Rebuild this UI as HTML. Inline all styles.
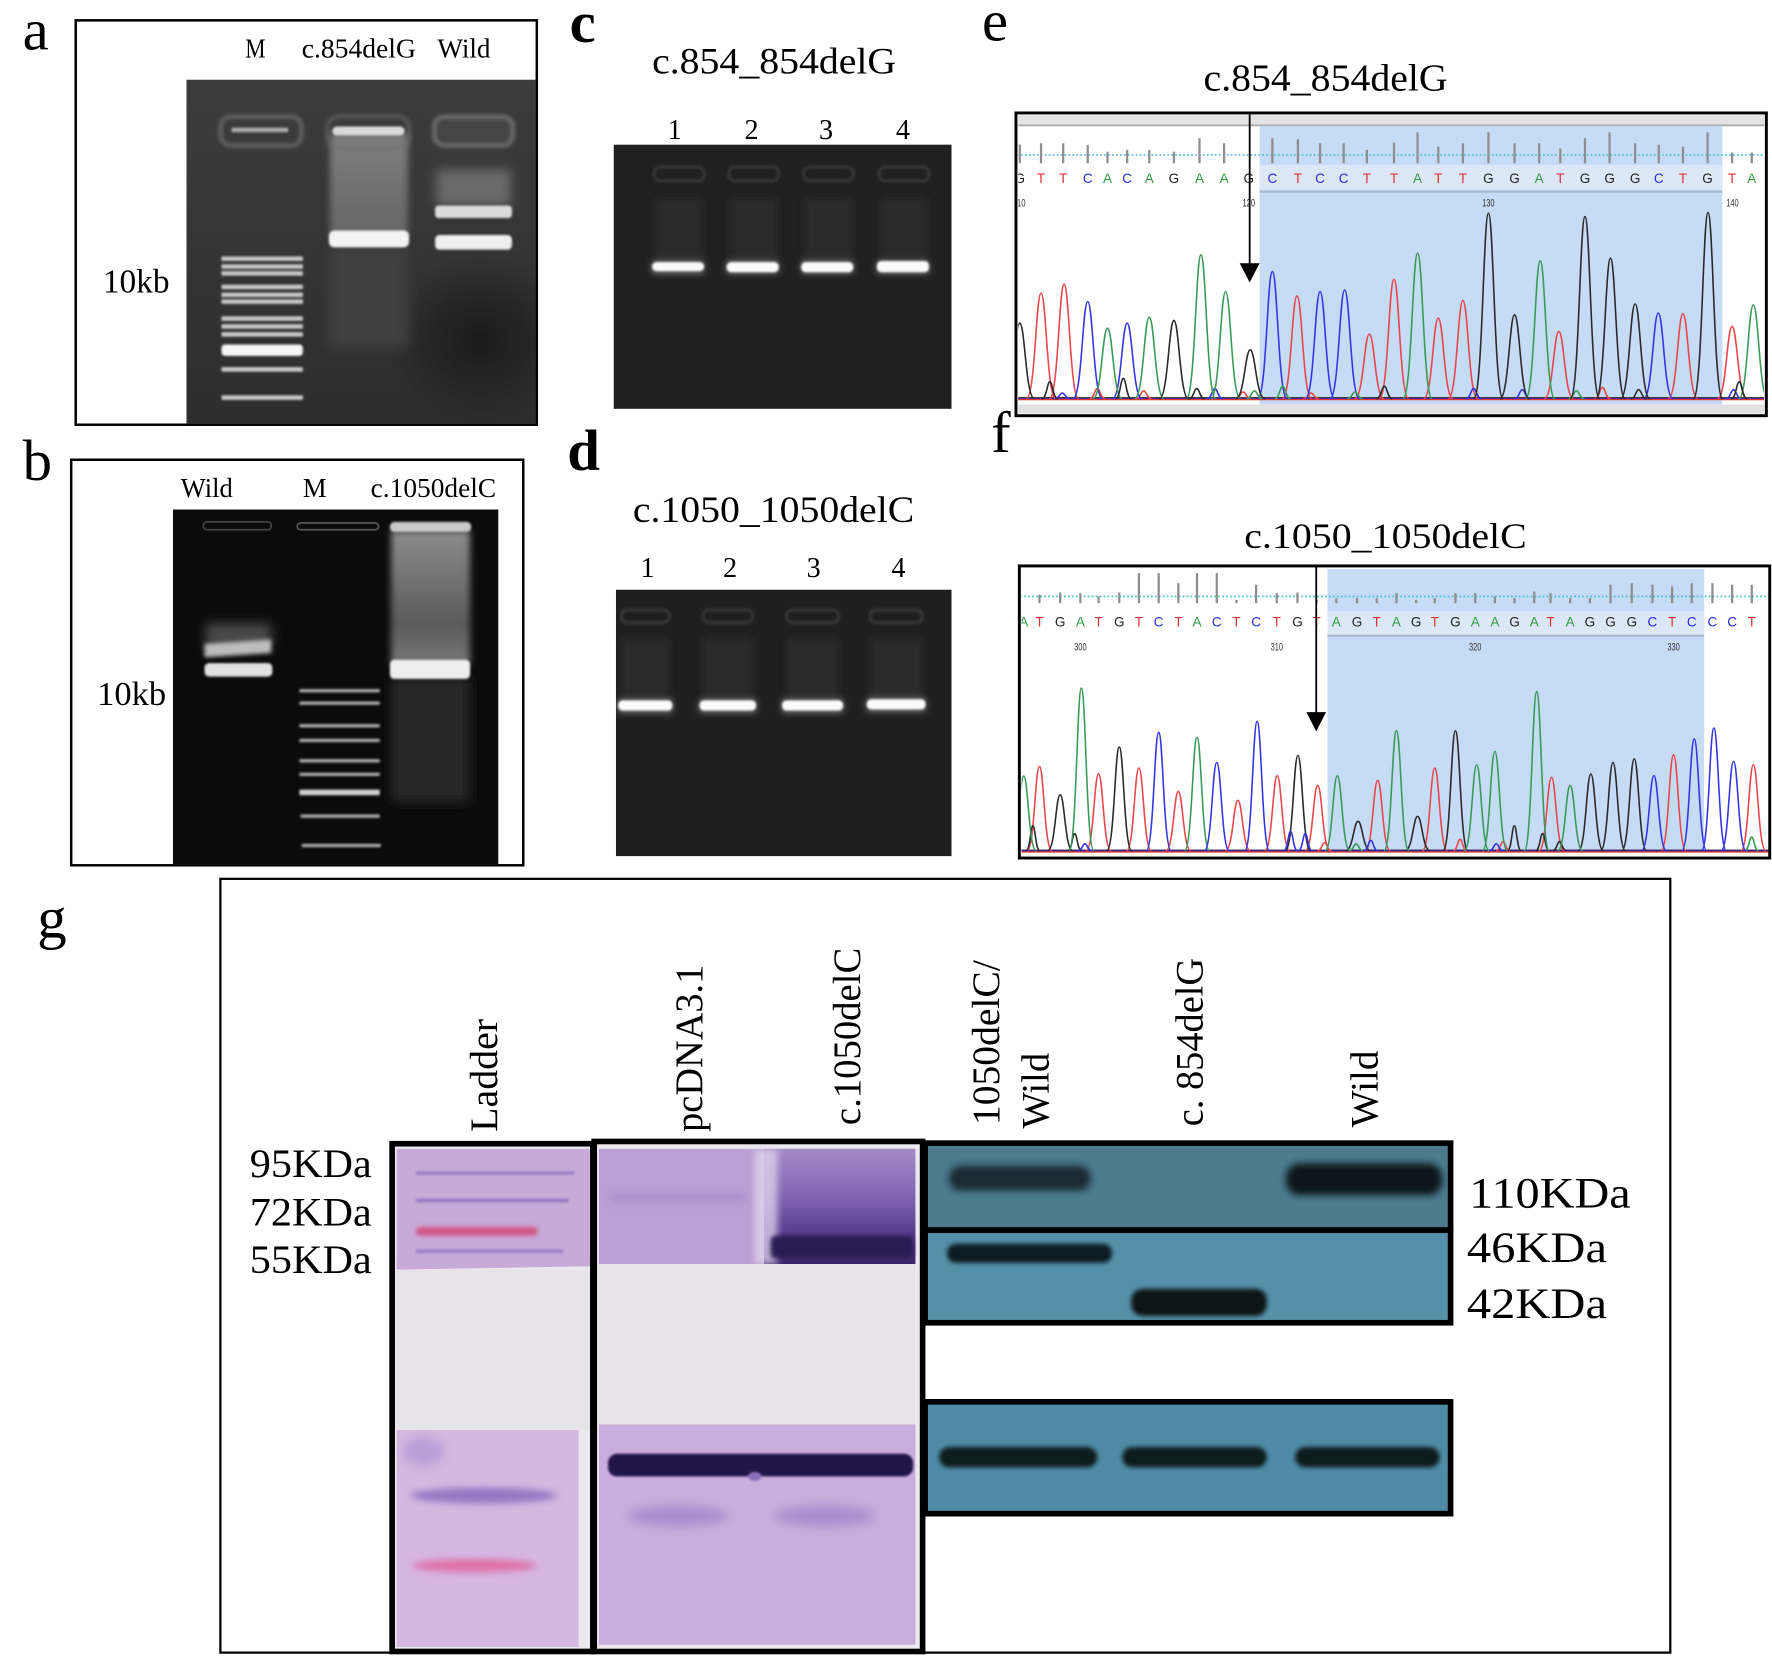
<!DOCTYPE html>
<html>
<head>
<meta charset="utf-8">
<style>
html,body{margin:0;padding:0;background:#fff;}
svg{display:block;}
.serif{font-family:"Liberation Serif","Times New Roman",serif;}
.sans{font-family:"Liberation Sans",Arial,sans-serif;}
</style>
</head>
<body>
<svg width="1772" height="1656" viewBox="0 0 1568 1466" preserveAspectRatio="none" xmlns="http://www.w3.org/2000/svg">
<defs>
  <filter id="b1" filterUnits="userSpaceOnUse" x="0" y="0" width="1568" height="1466"><feGaussianBlur stdDeviation="1"/></filter>
  <filter id="b2" filterUnits="userSpaceOnUse" x="0" y="0" width="1568" height="1466"><feGaussianBlur stdDeviation="2"/></filter>
  <filter id="b3" filterUnits="userSpaceOnUse" x="0" y="0" width="1568" height="1466"><feGaussianBlur stdDeviation="3"/></filter>
  <filter id="b5" filterUnits="userSpaceOnUse" x="0" y="0" width="1568" height="1466"><feGaussianBlur stdDeviation="5"/></filter>
  <radialGradient id="darkSpot" cx="0.5" cy="0.5" r="0.5">
    <stop offset="0" stop-color="#141414" stop-opacity="0.75"/>
    <stop offset="0.5" stop-color="#161616" stop-opacity="0.45"/>
    <stop offset="1" stop-color="#1a1a1a" stop-opacity="0"/>
  </radialGradient>
  <linearGradient id="gA" x1="0" y1="0" x2="0" y2="1"><stop offset="0" stop-color="#3c3c3c"/><stop offset="1" stop-color="#2d2d2d"/></linearGradient>
  <linearGradient id="smA" x1="0" y1="0" x2="0" y2="1"><stop offset="0" stop-color="#8a8a8a"/><stop offset="1" stop-color="#6e6e6e"/></linearGradient>
  <linearGradient id="smB" x1="0" y1="0" x2="0" y2="1"><stop offset="0" stop-color="#8c8c8c"/><stop offset="0.7" stop-color="#5a5a5a"/><stop offset="1" stop-color="#777"/></linearGradient>
  <linearGradient id="lane1050" x1="0" y1="0" x2="0" y2="1"><stop offset="0" stop-color="#a58ac9"/><stop offset="0.45" stop-color="#7d61b0"/><stop offset="0.7" stop-color="#5b3f90"/><stop offset="1" stop-color="#3a2468"/></linearGradient>
  <clipPath id="clipE"><rect x="901" y="102" width="660" height="264"/></clipPath>
  <clipPath id="clipF"><rect x="904" y="502.5" width="661" height="255.5"/></clipPath>
  <clipPath id="clipGA"><rect x="165" y="70.5" width="309" height="305"/></clipPath>
  <clipPath id="clipGB"><rect x="153" y="451" width="288" height="315"/></clipPath>
  <clipPath id="clipGC"><rect x="543" y="128" width="299" height="234"/></clipPath>
  <clipPath id="clipGD"><rect x="545" y="522" width="297" height="236"/></clipPath>
</defs>

<rect x="0" y="0" width="1568" height="1466" fill="#fff"/>

<!-- ================= Panel a ================= -->
<text class="serif" x="20" y="44" font-size="52">a</text>
<rect x="67" y="18" width="408" height="358" fill="#fff" stroke="#000" stroke-width="2.2"/>
<text class="serif" x="217" y="51" font-size="24" textLength="18" lengthAdjust="spacingAndGlyphs">M</text>
<text class="serif" x="267" y="51" font-size="24" textLength="101" lengthAdjust="spacingAndGlyphs">c.854delG</text>
<text class="serif" x="387" y="51" font-size="24" textLength="47" lengthAdjust="spacingAndGlyphs">Wild</text>
<text class="serif" x="91" y="259" font-size="30" textLength="59" lengthAdjust="spacingAndGlyphs">10kb</text>
<g clip-path="url(#clipGA)">
  <rect x="165" y="70.5" width="309" height="305" fill="url(#gA)"/>
  <ellipse cx="425" cy="300" rx="85" ry="75" fill="url(#darkSpot)"/>
  <!-- M lane -->
  <rect x="195" y="103" width="72" height="26" rx="9" fill="#3a3a3a" stroke="#7a7a7a" stroke-width="2" filter="url(#b2)"/>
  <rect x="205" y="113" width="50" height="4" fill="#aaa" filter="url(#b1)"/>
  <g fill="#c8c8c8" filter="url(#b1)">
    <rect x="196" y="227" width="72" height="4"/>
    <rect x="196" y="234" width="72" height="4"/>
    <rect x="196" y="240" width="72" height="4"/>
    <rect x="196" y="252" width="72" height="4"/>
    <rect x="196" y="259" width="72" height="4"/>
    <rect x="196" y="265" width="72" height="4"/>
    <rect x="196" y="280" width="72" height="4"/>
    <rect x="196" y="287" width="72" height="4"/>
    <rect x="196" y="294" width="72" height="4"/>
    <rect x="196" y="325" width="72" height="4"/>
    <rect x="196" y="350" width="72" height="4"/>
  </g>
  <rect x="196" y="305" width="72" height="10" rx="3" fill="#f6f6f6" filter="url(#b1)"/>
  <!-- c.854delG lane -->
  <rect x="292" y="118" width="69" height="92" fill="url(#smA)" opacity="0.85" filter="url(#b3)"/>
  <rect x="292" y="218" width="69" height="90" fill="#414141" filter="url(#b5)"/>
  <rect x="290" y="103" width="72" height="28" rx="10" fill="none" stroke="#6f6f6f" stroke-width="2" filter="url(#b2)"/>
  <rect x="294" y="112" width="64" height="8" rx="4" fill="#d8d8d8" filter="url(#b1)"/>
  <rect x="291" y="204" width="71" height="15" rx="5" fill="#f3f3f3" filter="url(#b1)"/>
  <!-- Wild lane -->
  <rect x="384" y="103" width="70" height="26" rx="9" fill="#454545" stroke="#8a8a8a" stroke-width="2" filter="url(#b2)"/>
  <rect x="386" y="150" width="66" height="32" fill="#6a6a6a" filter="url(#b5)"/>
  <rect x="385" y="182" width="68" height="11" rx="3" fill="#dcdcdc" filter="url(#b1)"/>
  <rect x="385" y="208" width="68" height="13" rx="4" fill="#efefef" filter="url(#b1)"/>
</g>

<!-- ================= Panel b ================= -->
<text class="serif" x="20" y="425" font-size="52">b</text>
<rect x="63" y="407" width="400" height="359" fill="#fff" stroke="#000" stroke-width="2.2"/>
<text class="serif" x="160" y="440" font-size="24" textLength="46" lengthAdjust="spacingAndGlyphs">Wild</text>
<text class="serif" x="268" y="440" font-size="24" textLength="21" lengthAdjust="spacingAndGlyphs">M</text>
<text class="serif" x="328" y="440" font-size="24" textLength="111" lengthAdjust="spacingAndGlyphs">c.1050delC</text>
<text class="serif" x="86" y="624" font-size="30" textLength="61" lengthAdjust="spacingAndGlyphs">10kb</text>
<g clip-path="url(#clipGB)">
  <rect x="153" y="451" width="288" height="315" fill="#0b0b0b"/>
  <!-- Wild -->
  <rect x="180" y="462" width="60" height="7" rx="3" fill="none" stroke="#444" stroke-width="1.5"/>
  <rect x="182" y="552" width="58" height="22" fill="#4a4a4a" filter="url(#b5)"/>
  <path d="M181 570 L240 566 L240 578 L181 582 Z" fill="#bdbdbd" filter="url(#b2)"/>
  <rect x="181" y="587" width="60" height="12" rx="4" fill="#e0e0e0" filter="url(#b1)"/>
  <!-- M ladder -->
  <rect x="263" y="463" width="72" height="6" rx="3" fill="none" stroke="#555" stroke-width="1.5"/>
  <g fill="#a8a8a8" filter="url(#b1)">
    <rect x="265" y="610" width="71" height="3"/>
    <rect x="265" y="621" width="71" height="3"/>
    <rect x="265" y="641" width="71" height="3"/>
    <rect x="265" y="654" width="71" height="3"/>
    <rect x="265" y="672" width="71" height="3"/>
    <rect x="265" y="684" width="71" height="3"/>
    <rect x="266" y="721" width="70" height="3"/>
    <rect x="267" y="747" width="70" height="3"/>
  </g>
  <rect x="265" y="699" width="71" height="5" fill="#d0d0d0" filter="url(#b1)"/>
  <!-- c.1050delC -->
  <rect x="346" y="470" width="70" height="118" fill="url(#smB)" filter="url(#b3)"/>
  <rect x="346" y="600" width="70" height="110" fill="#262626" filter="url(#b5)"/>
  <rect x="345" y="462" width="72" height="9" rx="4" fill="#c8c8c8" filter="url(#b1)"/>
  <rect x="345" y="584" width="71" height="17" rx="4" fill="#eeeeee" filter="url(#b1)"/>
</g>

<!-- ================= Panel c ================= -->
<text class="serif" x="504" y="37" font-size="52" font-weight="bold">c</text>
<text class="serif" x="577" y="65" font-size="33" textLength="216" lengthAdjust="spacingAndGlyphs">c.854_854delG</text>
<g class="serif" font-size="25" text-anchor="middle">
  <text x="597" y="123">1</text><text x="665" y="123">2</text><text x="731" y="123">3</text><text x="799" y="123">4</text>
</g>
<g clip-path="url(#clipGC)">
  <rect x="543" y="128" width="299" height="234" fill="#202020"/>
  <g fill="none" stroke="#363636" stroke-width="3" filter="url(#b1)">
    <rect x="579" y="148" width="44" height="12" rx="5"/>
    <rect x="645" y="148" width="44" height="12" rx="5"/>
    <rect x="711" y="148" width="44" height="12" rx="5"/>
    <rect x="778" y="148" width="44" height="12" rx="5"/>
  </g>
  <g fill="#2c2c2c" filter="url(#b3)">
    <rect x="580" y="175" width="42" height="55"/>
    <rect x="646" y="175" width="42" height="55"/>
    <rect x="712" y="175" width="42" height="55"/>
    <rect x="779" y="175" width="42" height="55"/>
  </g>
  <g fill="#777" filter="url(#b3)">
    <rect x="577" y="231" width="46" height="11"/>
    <rect x="643" y="231" width="46" height="11"/>
    <rect x="709" y="231" width="46" height="11"/>
    <rect x="776" y="231" width="46" height="11"/>
  </g>
  <g fill="#fafafa" filter="url(#b1)">
    <rect x="577" y="232" width="46" height="8" rx="4"/>
    <rect x="643" y="232" width="46" height="9" rx="4"/>
    <rect x="709" y="232" width="46" height="9" rx="4"/>
    <rect x="776" y="231" width="46" height="10" rx="4"/>
  </g>
</g>

<!-- ================= Panel d ================= -->
<text class="serif" x="502" y="416" font-size="52" font-weight="bold">d</text>
<text class="serif" x="560" y="462" font-size="33" textLength="249" lengthAdjust="spacingAndGlyphs">c.1050_1050delC</text>
<g class="serif" font-size="25" text-anchor="middle">
  <text x="573" y="511">1</text><text x="646" y="511">2</text><text x="720" y="511">3</text><text x="795" y="511">4</text>
</g>
<g clip-path="url(#clipGD)">
  <rect x="545" y="522" width="297" height="236" fill="#1f1f1f"/>
  <g fill="none" stroke="#363636" stroke-width="3" filter="url(#b1)">
    <rect x="550" y="540" width="42" height="11" rx="5"/>
    <rect x="622" y="540" width="44" height="11" rx="5"/>
    <rect x="696" y="540" width="46" height="11" rx="5"/>
    <rect x="770" y="540" width="46" height="11" rx="5"/>
  </g>
  <g fill="#2b2b2b" filter="url(#b3)">
    <rect x="550" y="565" width="42" height="55"/>
    <rect x="622" y="565" width="44" height="55"/>
    <rect x="696" y="565" width="46" height="55"/>
    <rect x="770" y="565" width="46" height="55"/>
  </g>
  <g fill="#777" filter="url(#b3)">
    <rect x="547" y="619" width="48" height="12"/>
    <rect x="619" y="619" width="50" height="12"/>
    <rect x="692" y="619" width="54" height="12"/>
    <rect x="767" y="618" width="52" height="12"/>
  </g>
  <g fill="#fafafa" filter="url(#b1)">
    <rect x="547" y="620" width="48" height="9" rx="4"/>
    <rect x="619" y="620" width="50" height="9" rx="4"/>
    <rect x="692" y="620" width="54" height="9" rx="4"/>
    <rect x="767" y="619" width="52" height="9" rx="4"/>
  </g>
</g>

<!-- ================= Panel e ================= -->
<text class="serif" x="869" y="36" font-size="52">e</text>
<text class="serif" x="1065" y="80" font-size="34" textLength="216" lengthAdjust="spacingAndGlyphs">c.854_854delG</text>
<rect x="899" y="100" width="664" height="268" fill="#fff"/>
<g clip-path="url(#clipE)">
  <rect x="900" y="101" width="662" height="10" fill="#e3e3e3"/>
  <line x1="900" y1="111" x2="1562" y2="111" stroke="#a9a9a9" stroke-width="1.5"/>
  <rect x="1114.6" y="111.5" width="409.4" height="246.8" fill="#c6dbf6"/>
  <rect x="1114.6" y="146" width="409.4" height="22" fill="#dce8f7"/>
  <line x1="1114.6" y1="169.6" x2="1524" y2="169.6" stroke="#a9b9cd" stroke-width="2"/>
  <rect x="900" y="358" width="662" height="8" fill="#e2e2e2"/>
  <line x1="900" y1="137.2" x2="1562" y2="137.2" stroke="#36bccb" stroke-width="1.4" stroke-dasharray="1.5 2"/>
  <path stroke="#8e8e8e" stroke-width="2" fill="none" d="M902.4 144.5V128 M921.2 144.5V126.8 M940.8 144.5V126.8 M962.5 144.5V128.3 M980 144.5V134.2 M997.4 144.5V132.7 M1017 144.5V132.7 M1038.8 144.5V134.2 M1061.4 144.5V122.4 M1083.2 144.5V126.8 M1125.9 144.5V122.4 M1148.5 144.5V123.3 M1168.1 144.5V126.8 M1189 144.5V126.8 M1209.5 144.5V132.7 M1233.5 144.5V126.2 M1254.4 144.5V117.1 M1272.7 144.5V129.8 M1294.5 144.5V126.8 M1317.1 144.5V117.1 M1340.2 144.5V126.8 M1362 144.5V126.8 M1380.7 144.5V131.3 M1402.5 144.5V122.4 M1424.3 144.5V117.1 M1446.9 144.5V126.8 M1467.8 144.5V128.3 M1489.2 144.5V129.8 M1511 144.5V117.1 M1532.7 144.5V135.1 M1550.1 144.5V135.1"/>
  <g class="sans" font-size="12" text-anchor="middle">
    <text x="902.4" y="162" fill="#222">G</text>
    <text x="921.2" y="162" fill="#e23030">T</text>
    <text x="940.8" y="162" fill="#e23030">T</text>
    <text x="962.5" y="162" fill="#2b2be0">C</text>
    <text x="980" y="162" fill="#2e9a40">A</text>
    <text x="997.4" y="162" fill="#2b2be0">C</text>
    <text x="1017" y="162" fill="#2e9a40">A</text>
    <text x="1038.8" y="162" fill="#222">G</text>
    <text x="1061.4" y="162" fill="#2e9a40">A</text>
    <text x="1083.2" y="162" fill="#2e9a40">A</text>
    <text x="1105" y="162" fill="#222">G</text>
    <text x="1125.9" y="162" fill="#2b2be0">C</text>
    <text x="1148.5" y="162" fill="#e23030">T</text>
    <text x="1168.1" y="162" fill="#2b2be0">C</text>
    <text x="1189" y="162" fill="#2b2be0">C</text>
    <text x="1209.5" y="162" fill="#e23030">T</text>
    <text x="1233.5" y="162" fill="#e23030">T</text>
    <text x="1254.4" y="162" fill="#2e9a40">A</text>
    <text x="1272.7" y="162" fill="#e23030">T</text>
    <text x="1294.5" y="162" fill="#e23030">T</text>
    <text x="1317.1" y="162" fill="#222">G</text>
    <text x="1340.2" y="162" fill="#222">G</text>
    <text x="1362" y="162" fill="#2e9a40">A</text>
    <text x="1380.7" y="162" fill="#e23030">T</text>
    <text x="1402.5" y="162" fill="#222">G</text>
    <text x="1424.3" y="162" fill="#222">G</text>
    <text x="1446.9" y="162" fill="#222">G</text>
    <text x="1467.8" y="162" fill="#2b2be0">C</text>
    <text x="1489.2" y="162" fill="#e23030">T</text>
    <text x="1511" y="162" fill="#222">G</text>
    <text x="1532.7" y="162" fill="#e23030">T</text>
    <text x="1550.1" y="162" fill="#2e9a40">A</text>
  </g>
  <g class="sans" font-size="10" fill="#333" text-anchor="middle">
    <text x="902" y="183" textLength="11" lengthAdjust="spacingAndGlyphs">110</text>
    <text x="1105" y="183" textLength="11" lengthAdjust="spacingAndGlyphs">120</text>
    <text x="1317" y="183" textLength="11" lengthAdjust="spacingAndGlyphs">130</text>
    <text x="1533" y="183" textLength="11" lengthAdjust="spacingAndGlyphs">140</text>
  </g>
  <!-- baselines -->
  <line x1="900" y1="353.5" x2="1562" y2="353.5" stroke="#e03535" stroke-width="1.6"/>
  <line x1="900" y1="352.5" x2="1562" y2="352.5" stroke="#2b2be0" stroke-width="1"/>
  <line x1="900" y1="352" x2="1562" y2="352" stroke="#222" stroke-width="0.8"/>
  <g fill="none" stroke-width="1.4" stroke-linejoin="round">
    <path stroke="#e8474c" d="M908.2 353c7.8 0 8.45 -93.5 13 -93.5c4.55 0 5.2 93.5 13 93.5 M928.6 353c7.8 0 8.45 -101.4 13 -101.4c4.55 0 5.2 101.4 13 101.4 M1134.7 353c7.8 0 8.45 -91.1 13 -91.1c4.55 0 5.2 91.1 13 91.1 M1198.7 353c7.8 0 8.45 -57.2 13 -57.2c4.55 0 5.2 57.2 13 57.2 M1220.5 353c7.8 0 8.45 -105.8 13 -105.8c4.55 0 5.2 105.8 13 105.8 M1259.7 353c7.8 0 8.45 -71.3 13 -71.3c4.55 0 5.2 71.3 13 71.3 M1281.5 353c7.8 0 8.45 -87 13 -87c4.55 0 5.2 87 13 87 M1366.4 353c7.8 0 8.45 -59.5 13 -59.5c4.55 0 5.2 59.5 13 59.5 M1476.2 353c7.8 0 8.45 -75.2 13 -75.2c4.55 0 5.2 75.2 13 75.2 M1519.7 353c7.8 0 8.45 -64 13 -64c4.55 0 5.2 64 13 64 M964 353c4.2 0 4.55 -9 7 -9c2.45 0 2.8 9 7 9 M1005 353c4.2 0 4.55 -7 7 -7c2.45 0 2.8 7 7 7 M1093 353c4.2 0 4.55 -6 7 -6c2.45 0 2.8 6 7 6 M1411 353c4.2 0 4.55 -10 7 -10c2.45 0 2.8 10 7 10 M1153 353c4.2 0 4.55 -5 7 -5c2.45 0 2.8 5 7 5"/>
    <path stroke="#3535e6" d="M949.5 353c7.8 0 8.45 -86.1 13 -86.1c4.55 0 5.2 86.1 13 86.1 M984.4 353c7.8 0 8.45 -66.9 13 -66.9c4.55 0 5.2 66.9 13 66.9 M1112.9 353c7.8 0 8.45 -112.6 13 -112.6c4.55 0 5.2 112.6 13 112.6 M1155.1 353c7.8 0 8.45 -94.9 13 -94.9c4.55 0 5.2 94.9 13 94.9 M1176.9 353c7.8 0 8.45 -96.4 13 -96.4c4.55 0 5.2 96.4 13 96.4 M1454.4 353c7.8 0 8.45 -75.8 13 -75.8c4.55 0 5.2 75.8 13 75.8 M1068 353c4.2 0 4.55 -9 7 -9c2.45 0 2.8 9 7 9 M1297 353c4.2 0 4.55 -9 7 -9c2.45 0 2.8 9 7 9 M1340 353c4.2 0 4.55 -8 7 -8c2.45 0 2.8 8 7 8 M1527 353c4.2 0 4.55 -8 7 -8c2.45 0 2.8 8 7 8 M933 353c4.2 0 4.55 -5 7 -5c2.45 0 2.8 5 7 5"/>
    <path stroke="#3a9a58" d="M967 353c7.8 0 8.45 -62.5 13 -62.5c4.55 0 5.2 62.5 13 62.5 M1004 353c7.8 0 8.45 -72.2 13 -72.2c4.55 0 5.2 72.2 13 72.2 M1049.7 353c7.8 0 8.45 -127.4 13 -127.4c4.55 0 5.2 127.4 13 127.4 M1071.5 353c7.8 0 8.45 -94.9 13 -94.9c4.55 0 5.2 94.9 13 94.9 M1241.4 353c7.8 0 8.45 -128.8 13 -128.8c4.55 0 5.2 128.8 13 128.8 M1349.9 353c7.8 0 8.45 -122.1 13 -122.1c4.55 0 5.2 122.1 13 122.1 M1538.5 353c7.8 0 8.45 -83.1 13 -83.1c4.55 0 5.2 83.1 13 83.1 M1128 353c4.2 0 4.55 -11 7 -11c2.45 0 2.8 11 7 11 M1103 353c4.2 0 4.55 -7 7 -7c2.45 0 2.8 7 7 7 M1192 353c4.2 0 4.55 -6 7 -6c2.45 0 2.8 6 7 6 M1388 353c4.2 0 4.55 -7 7 -7c2.45 0 2.8 7 7 7"/>
    <path stroke="#2a2a2a" d="M889.4 353c7.8 0 8.45 -66.9 13 -66.9c4.55 0 5.2 66.9 13 66.9 M1025.8 353c7.8 0 8.45 -69.3 13 -69.3c4.55 0 5.2 69.3 13 69.3 M1093.3 353c7.8 0 8.45 -43.3 13 -43.3c4.55 0 5.2 43.3 13 43.3 M1304.1 353c7.8 0 8.45 -164.2 13 -164.2c4.55 0 5.2 164.2 13 164.2 M1327.2 353c7.8 0 8.45 -74.3 13 -74.3c4.55 0 5.2 74.3 13 74.3 M1389.5 353c7.8 0 8.45 -161.3 13 -161.3c4.55 0 5.2 161.3 13 161.3 M1412.1 353c7.8 0 8.45 -124.4 13 -124.4c4.55 0 5.2 124.4 13 124.4 M1433.9 353c7.8 0 8.45 -84 13 -84c4.55 0 5.2 84 13 84 M1498.4 353c7.8 0 8.45 -164.8 13 -164.8c4.55 0 5.2 164.8 13 164.8 M922 353c4.2 0 4.55 -15 7 -15c2.45 0 2.8 15 7 15 M987 353c4.2 0 4.55 -18 7 -18c2.45 0 2.8 18 7 18 M1052 353c4.2 0 4.55 -9 7 -9c2.45 0 2.8 9 7 9 M1218 353c4.2 0 4.55 -11 7 -11c2.45 0 2.8 11 7 11 M1532 353c4.2 0 4.55 -15 7 -15c2.45 0 2.8 15 7 15 M1443 353c4.2 0 4.55 -8 7 -8c2.45 0 2.8 8 7 8"/>
  </g>
</g>
<rect x="899" y="100" width="664" height="268" fill="none" stroke="#000" stroke-width="2.6"/>
<line x1="1105.8" y1="101" x2="1105.8" y2="236" stroke="#000" stroke-width="1.6"/>
<path d="M1097 233 L1114.6 233 L1105.8 250 Z" fill="#000"/>

<!-- ================= Panel f ================= -->
<text class="serif" x="877" y="400" font-size="52">f</text>
<text class="serif" x="1101" y="485" font-size="32" textLength="250" lengthAdjust="spacingAndGlyphs">c.1050_1050delC</text>
<rect x="902" y="501" width="664" height="258.6" fill="#fff"/>
<g clip-path="url(#clipF)">
  <rect x="1174.7" y="503.8" width="333.3" height="249.9" fill="#c6dbf6"/>
  <rect x="1174.7" y="541" width="333.3" height="21" fill="#dce8f7"/>
  <line x1="1174.7" y1="562.8" x2="1508" y2="562.8" stroke="#a9b9cd" stroke-width="2"/>
  <line x1="903" y1="528" x2="1566" y2="528" stroke="#36bccb" stroke-width="1.4" stroke-dasharray="1.5 2"/>
  <path stroke="#8e8e8e" stroke-width="2" fill="none" d="M919.8 533.9V526.5 M938.1 533.9V524.5 M956 533.9V525.1 M972.1 533.9V528 M990.4 533.9V524.5 M1007.8 533.9V507.4 M1025.3 533.9V507.4 M1042.7 533.9V516.2 M1059.2 533.9V507.4 M1076.7 533.9V507.4 M1094.1 533.9V531 M1111.5 533.9V517.7 M1129.8 533.9V525.1 M1148.1 533.9V524.5 M1165.1 533.9V531 M1182.5 533.9V529.5 M1200.8 533.9V529.5 M1218.2 533.9V529.5 M1235.7 533.9V525.1 M1253.1 533.9V531 M1269.6 533.9V529.5 M1287.9 533.9V525.1 M1305.4 533.9V525.1 M1322.8 533.9V528 M1340.2 533.9V529.5 M1357.6 533.9V523.6 M1372 533.9V525.1 M1389.4 533.9V529.5 M1406.9 533.9V529.5 M1425.1 533.9V517.7 M1443.9 533.9V516.2 M1462.2 533.9V517.7 M1479.6 533.9V519.2 M1497 533.9V516.2 M1515.3 533.9V516.2 M1532.7 533.9V517.7 M1550.1 533.9V517.7"/>
  <g class="sans" font-size="12" text-anchor="middle">
    <text x="905.9" y="554.5" fill="#2e9a40">A</text>
    <text x="919.8" y="554.5" fill="#e23030">T</text>
    <text x="938.1" y="554.5" fill="#222">G</text>
    <text x="956" y="554.5" fill="#2e9a40">A</text>
    <text x="972.1" y="554.5" fill="#e23030">T</text>
    <text x="990.4" y="554.5" fill="#222">G</text>
    <text x="1007.8" y="554.5" fill="#e23030">T</text>
    <text x="1025.3" y="554.5" fill="#2b2be0">C</text>
    <text x="1042.7" y="554.5" fill="#e23030">T</text>
    <text x="1059.2" y="554.5" fill="#2e9a40">A</text>
    <text x="1076.7" y="554.5" fill="#2b2be0">C</text>
    <text x="1094.1" y="554.5" fill="#e23030">T</text>
    <text x="1111.5" y="554.5" fill="#2b2be0">C</text>
    <text x="1129.8" y="554.5" fill="#e23030">T</text>
    <text x="1148.1" y="554.5" fill="#222">G</text>
    <text x="1165.1" y="554.5" fill="#e23030">T</text>
    <text x="1182.5" y="554.5" fill="#2e9a40">A</text>
    <text x="1200.8" y="554.5" fill="#222">G</text>
    <text x="1218.2" y="554.5" fill="#e23030">T</text>
    <text x="1235.7" y="554.5" fill="#2e9a40">A</text>
    <text x="1253.1" y="554.5" fill="#222">G</text>
    <text x="1269.6" y="554.5" fill="#e23030">T</text>
    <text x="1287.9" y="554.5" fill="#222">G</text>
    <text x="1305.4" y="554.5" fill="#2e9a40">A</text>
    <text x="1322.8" y="554.5" fill="#2e9a40">A</text>
    <text x="1340.2" y="554.5" fill="#222">G</text>
    <text x="1357.6" y="554.5" fill="#2e9a40">A</text>
    <text x="1372" y="554.5" fill="#e23030">T</text>
    <text x="1389.4" y="554.5" fill="#2e9a40">A</text>
    <text x="1406.9" y="554.5" fill="#222">G</text>
    <text x="1425.1" y="554.5" fill="#222">G</text>
    <text x="1443.9" y="554.5" fill="#222">G</text>
    <text x="1462.2" y="554.5" fill="#2b2be0">C</text>
    <text x="1479.6" y="554.5" fill="#e23030">T</text>
    <text x="1497" y="554.5" fill="#2b2be0">C</text>
    <text x="1515.3" y="554.5" fill="#2b2be0">C</text>
    <text x="1532.7" y="554.5" fill="#2b2be0">C</text>
    <text x="1550.1" y="554.5" fill="#e23030">T</text>
  </g>
  <g class="sans" font-size="10" fill="#333" text-anchor="middle">
    <text x="956" y="576" textLength="11" lengthAdjust="spacingAndGlyphs">300</text>
    <text x="1129.8" y="576" textLength="11" lengthAdjust="spacingAndGlyphs">310</text>
    <text x="1305.4" y="576" textLength="11" lengthAdjust="spacingAndGlyphs">320</text>
    <text x="1480.9" y="576" textLength="11" lengthAdjust="spacingAndGlyphs">330</text>
  </g>
  <line x1="903" y1="754" x2="1566" y2="754" stroke="#e03535" stroke-width="1.6"/>
  <line x1="903" y1="753" x2="1566" y2="753" stroke="#2b2be0" stroke-width="1.2"/>
  <line x1="903" y1="752.5" x2="1566" y2="752.5" stroke="#222" stroke-width="0.8"/>
  <g fill="none" stroke-width="1.4" stroke-linejoin="round">
    <path stroke="#e8474c" d="M908.8 753c6.6 0 7.15 -74.5 11 -74.5c3.85 0 4.4 74.5 11 74.5 M961.1 753c6.6 0 7.15 -68 11 -68c3.85 0 4.4 68 11 68 M996.8 753c6.6 0 7.15 -73.1 11 -73.1c3.85 0 4.4 73.1 11 73.1 M1031.7 753c6.6 0 7.15 -52.4 11 -52.4c3.85 0 4.4 52.4 11 52.4 M1084.4 753c6.6 0 7.15 -44.5 11 -44.5c3.85 0 4.4 44.5 11 44.5 M1119.2 753c6.6 0 7.15 -66.3 11 -66.3c3.85 0 4.4 66.3 11 66.3 M1155 753c6.6 0 7.15 -57.7 11 -57.7c3.85 0 4.4 57.7 11 57.7 M1208.1 753c6.6 0 7.15 -62.2 11 -62.2c3.85 0 4.4 62.2 11 62.2 M1258.6 753c6.6 0 7.15 -73.1 11 -73.1c3.85 0 4.4 73.1 11 73.1 M1361.9 753c6.6 0 7.15 -64.8 11 -64.8c3.85 0 4.4 64.8 11 64.8 M1469.9 753c6.6 0 7.15 -84.9 11 -84.9c3.85 0 4.4 84.9 11 84.9 M1540.5 753c6.6 0 7.15 -76 11 -76c3.85 0 4.4 76 11 76 M1286 753c3.6 0 3.9 -10 6 -10c2.1 0 2.4 10 6 10 M1324 753c3.6 0 3.9 -8 6 -8c2.1 0 2.4 8 6 8 M1166 753c3.6 0 3.9 -7 6 -7c2.1 0 2.4 7 6 7"/>
    <path stroke="#2a2a2a" d="M927.1 753c6.6 0 7.15 -49.5 11 -49.5c3.85 0 4.4 49.5 11 49.5 M979.4 753c6.6 0 7.15 -91.7 11 -91.7c3.85 0 4.4 91.7 11 91.7 M1137.5 753c6.6 0 7.15 -84.3 11 -84.3c3.85 0 4.4 84.3 11 84.3 M1190.7 753c6.6 0 7.15 -25.9 11 -25.9c3.85 0 4.4 25.9 11 25.9 M1243.4 753c6.6 0 7.15 -30.3 11 -30.3c3.85 0 4.4 30.3 11 30.3 M1276.9 753c6.6 0 7.15 -106.1 11 -106.1c3.85 0 4.4 106.1 11 106.1 M1396.7 753c6.6 0 7.15 -67.8 11 -67.8c3.85 0 4.4 67.8 11 67.8 M1416.3 753c6.6 0 7.15 -78.1 11 -78.1c3.85 0 4.4 78.1 11 78.1 M1435.1 753c6.6 0 7.15 -81.3 11 -81.3c3.85 0 4.4 81.3 11 81.3 M908 753c3.6 0 3.9 -22 6 -22c2.1 0 2.4 22 6 22 M945 753c3.6 0 3.9 -15 6 -15c2.1 0 2.4 15 6 15 M1334 753c3.6 0 3.9 -22 6 -22c2.1 0 2.4 22 6 22 M1359 753c3.6 0 3.9 -15 6 -15c2.1 0 2.4 15 6 15 M1374 753c3.6 0 3.9 -8 6 -8c2.1 0 2.4 8 6 8"/>
    <path stroke="#3a9a58" d="M894.9 753c6.6 0 7.15 -66 11 -66c3.85 0 4.4 66 11 66 M945.9 753c6.6 0 7.15 -143.9 11 -143.9c3.85 0 4.4 143.9 11 143.9 M1048.2 753c6.6 0 7.15 -100.2 11 -100.2c3.85 0 4.4 100.2 11 100.2 M1172.4 753c6.6 0 7.15 -66.3 11 -66.3c3.85 0 4.4 66.3 11 66.3 M1224.7 753c6.6 0 7.15 -106.1 11 -106.1c3.85 0 4.4 106.1 11 106.1 M1295.7 753c6.6 0 7.15 -76 11 -76c3.85 0 4.4 76 11 76 M1311.8 753c6.6 0 7.15 -87.8 11 -87.8c3.85 0 4.4 87.8 11 87.8 M1348.8 753c6.6 0 7.15 -140.9 11 -140.9c3.85 0 4.4 140.9 11 140.9 M1378.4 753c6.6 0 7.15 -57.7 11 -57.7c3.85 0 4.4 57.7 11 57.7 M1544 753c3.6 0 3.9 -12 6 -12c2.1 0 2.4 12 6 12 M1194 753c3.6 0 3.9 -6 6 -6c2.1 0 2.4 6 6 6"/>
    <path stroke="#3535e6" d="M1014.3 753c6.6 0 7.15 -104.6 11 -104.6c3.85 0 4.4 104.6 11 104.6 M1065.7 753c6.6 0 7.15 -78.1 11 -78.1c3.85 0 4.4 78.1 11 78.1 M1101.4 753c6.6 0 7.15 -114.4 11 -114.4c3.85 0 4.4 114.4 11 114.4 M1452.5 753c6.6 0 7.15 -66.3 11 -66.3c3.85 0 4.4 66.3 11 66.3 M1488.2 753c6.6 0 7.15 -98.7 11 -98.7c3.85 0 4.4 98.7 11 98.7 M1505.6 753c6.6 0 7.15 -108.5 11 -108.5c3.85 0 4.4 108.5 11 108.5 M1523 753c6.6 0 7.15 -79 11 -79c3.85 0 4.4 79 11 79 M1136 753c3.6 0 3.9 -17 6 -17c2.1 0 2.4 17 6 17 M1149 753c3.6 0 3.9 -15 6 -15c2.1 0 2.4 15 6 15 M1207 753c3.6 0 3.9 -9 6 -9c2.1 0 2.4 9 6 9 M1318 753c3.6 0 3.9 -6 6 -6c2.1 0 2.4 6 6 6 M954 753c3.6 0 3.9 -6 6 -6c2.1 0 2.4 6 6 6"/>
  </g>
</g>
<rect x="902" y="501" width="664" height="258.6" fill="none" stroke="#000" stroke-width="2.6"/>
<line x1="1164.7" y1="501" x2="1164.7" y2="632" stroke="#000" stroke-width="1.6"/>
<path d="M1156 630.4 L1173.4 630.4 L1164.7 647.5 Z" fill="#000"/>

<!-- ================= Panel g ================= -->
<text class="serif" x="33" y="830" font-size="52">g</text>
<rect x="195" y="778" width="1283" height="685" fill="none" stroke="#000" stroke-width="2"/>

<!-- rotated lane labels -->
<g class="serif" font-size="35" fill="#000">
  <text transform="translate(440,1002) rotate(-90)" textLength="100" lengthAdjust="spacingAndGlyphs">Ladder</text>
  <text transform="translate(621,1002) rotate(-90)" textLength="148" lengthAdjust="spacingAndGlyphs">pcDNA3.1</text>
  <text transform="translate(761,996) rotate(-90)" textLength="157" lengthAdjust="spacingAndGlyphs">c.1050delC</text>
  <text transform="translate(884,996) rotate(-90)" textLength="146" lengthAdjust="spacingAndGlyphs">1050delC/</text>
  <text transform="translate(928,999) rotate(-90)" textLength="67" lengthAdjust="spacingAndGlyphs">Wild</text>
  <text transform="translate(1064,997) rotate(-90)" textLength="149" lengthAdjust="spacingAndGlyphs">c. 854delG</text>
  <text transform="translate(1219,998) rotate(-90)" textLength="68" lengthAdjust="spacingAndGlyphs">Wild</text>
</g>

<!-- left marker labels -->
<g class="serif" font-size="36">
  <text x="221" y="1042" textLength="108" lengthAdjust="spacingAndGlyphs">95KDa</text>
  <text x="221" y="1085" textLength="108" lengthAdjust="spacingAndGlyphs">72KDa</text>
  <text x="221" y="1127" textLength="108" lengthAdjust="spacingAndGlyphs">55KDa</text>
</g>
<!-- right marker labels -->
<g class="serif" font-size="38">
  <text x="1300" y="1069" textLength="143" lengthAdjust="spacingAndGlyphs">110KDa</text>
  <text x="1298" y="1117" textLength="124" lengthAdjust="spacingAndGlyphs">46KDa</text>
  <text x="1298" y="1167" textLength="124" lengthAdjust="spacingAndGlyphs">42KDa</text>
</g>

<!-- Ladder membrane -->
<rect x="349" y="1015" width="174" height="445" fill="#ebe9ee"/>
<rect x="351" y="1017" width="171" height="104" fill="#c8aad9"/>
<path d="M351 1112 L522 1112 L522 1121 L351 1124 Z" fill="#c8aad9"/>
<g filter="url(#b1)" opacity="0.75">
  <rect x="368" y="1037" width="140" height="3" fill="#8c70be"/>
  <rect x="368" y="1061" width="135" height="3.5" fill="#8a6cbc"/>
  <rect x="368" y="1106" width="130" height="3.5" fill="#9276c2"/>
</g>
<rect x="368" y="1086" width="108" height="8" rx="4" fill="#d24a78" opacity="0.85" filter="url(#b2)"/>
<rect x="351" y="1124" width="171" height="142" fill="#e6e4e9"/>
<rect x="351" y="1266" width="161" height="192" fill="#d5b7e0"/>
<ellipse cx="428" cy="1324" rx="65" ry="7" fill="#7f62ba" opacity="0.75" filter="url(#b3)"/>
<ellipse cx="375" cy="1285" rx="18" ry="12" fill="#9a80c8" opacity="0.5" filter="url(#b5)"/>
<ellipse cx="420" cy="1386" rx="55" ry="6" fill="#e25592" opacity="0.7" filter="url(#b3)"/>
<rect x="347" y="1012.5" width="177.6" height="449.5" fill="none" stroke="#000" stroke-width="5"/>

<!-- pcDNA / c.1050delC membrane -->
<rect x="528" y="1013" width="286" height="446" fill="#ebe9ee"/>
<rect x="530" y="1017" width="280" height="102" fill="#bc9fd4"/>
<rect x="540" y="1055" width="120" height="10" fill="#a58ac8" opacity="0.6" filter="url(#b3)"/>
<rect x="676" y="1017" width="134" height="102" fill="url(#lane1050)"/>
<rect x="668" y="1017" width="20" height="102" fill="#e2d8ee" opacity="0.75" filter="url(#b3)"/>
<rect x="682" y="1094" width="126" height="20" rx="4" fill="#2a1a52" filter="url(#b2)"/>
<rect x="530" y="1119" width="280" height="142" fill="#e5e3e8"/>
<rect x="530" y="1261" width="280" height="195" fill="#c9aedd"/>
<rect x="538" y="1287" width="270" height="20" rx="8" fill="#231548" filter="url(#b1)"/>
<ellipse cx="668" cy="1307" rx="6" ry="4" fill="#8a70b8" filter="url(#b1)"/>
<ellipse cx="600" cy="1342" rx="45" ry="9" fill="#9b7ec4" opacity="0.7" filter="url(#b5)"/>
<ellipse cx="730" cy="1342" rx="45" ry="9" fill="#9b7ec4" opacity="0.7" filter="url(#b5)"/>
<rect x="525.8" y="1010.5" width="290.6" height="451.5" fill="none" stroke="#000" stroke-width="5"/>

<!-- Western blot panels -->
<rect x="818.6" y="1012" width="465" height="77" fill="#4b7b8c"/>
<rect x="840" y="1032" width="125" height="22" rx="10" fill="#13202a" opacity="0.9" filter="url(#b3)"/>
<rect x="1138" y="1030" width="138" height="28" rx="12" fill="#0d161c" filter="url(#b3)"/>
<rect x="818.6" y="1012" width="465" height="77" fill="none" stroke="#000" stroke-width="5"/>

<rect x="818.6" y="1089" width="465" height="82" fill="#5590a8"/>
<rect x="838" y="1101" width="146" height="17" rx="8" fill="#101a20" filter="url(#b2)"/>
<rect x="1001" y="1141" width="120" height="24" rx="10" fill="#0d1418" filter="url(#b2)"/>
<rect x="818.6" y="1089" width="465" height="82" fill="none" stroke="#000" stroke-width="5"/>

<rect x="818.6" y="1241" width="465" height="99" fill="#4f8ba6"/>
<g fill="#101a1f" filter="url(#b2)">
  <rect x="831" y="1281" width="140" height="18" rx="9"/>
  <rect x="993" y="1281" width="128" height="18" rx="9"/>
  <rect x="1146" y="1281" width="128" height="18" rx="9"/>
</g>
<rect x="818.6" y="1241" width="465" height="99" fill="none" stroke="#000" stroke-width="5"/>

</svg>
</body>
</html>
